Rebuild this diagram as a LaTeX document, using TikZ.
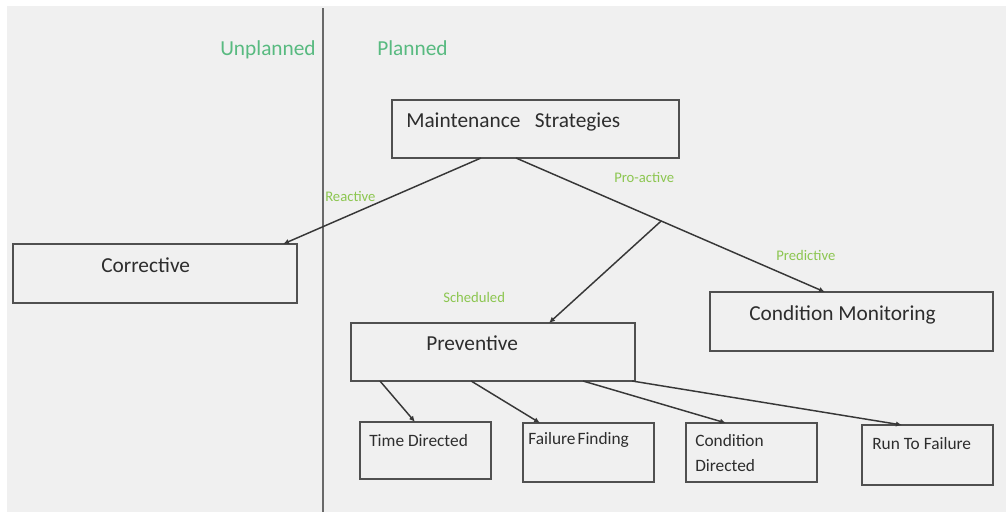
\documentclass[tikz,border=0pt]{standalone}
\usepackage{fontspec}
\setmainfont{Carlito}
\usetikzlibrary{calc,arrows.meta}
\definecolor{pagegray}{RGB}{240,240,240}
\definecolor{boxline}{RGB}{80,80,80}
\definecolor{arrowline}{RGB}{55,55,55}
\definecolor{divline}{RGB}{105,105,105}
\definecolor{zonegreen}{RGB}{88,186,128}
\definecolor{tagcolor}{RGB}{140,198,80}
\definecolor{inktext}{RGB}{45,45,45}
\begin{document}
\begin{tikzpicture}[x=0.75pt,y=-0.75pt,
  box/.style 2 args={draw=boxline, line width=1.1pt, rectangle, inner sep=0pt, outer sep=0pt,
    minimum width=#1*0.75pt, minimum height=#2*0.75pt},
  bigtext/.style={anchor=base west, inner sep=0pt, text=inktext, font=\fontsize{16}{19}\selectfont},
  smalltext/.style={anchor=base west, inner sep=0pt, text=inktext, font=\fontsize{13}{16}\selectfont},
  zone/.style={anchor=base west, inner sep=0pt, text=zonegreen, font=\fontsize{16}{19}\selectfont},
  tag/.style={anchor=base west, inner sep=0pt, text=tagcolor, font=\fontsize{11}{13}\selectfont},
  link/.style={draw=arrowline, line width=1.1pt, -{Latex[length=4.5pt,width=4pt]}}]
  % canvas
  \fill[white] (0,0) rectangle (1006,512);
  \fill[pagegray] (7,6) rectangle (1006,512);
  \useasboundingbox (0,0) rectangle (1006,512);

  % divider between unplanned and planned work
  \coordinate (divtop) at (323,8);
  \coordinate (divbot) at (323,512);
  \draw[divline, line width=1.1pt] (divtop) -- (divbot);
  \node[zone] (unpl) at (220,55) {Unplanned};
  \node[zone] (pl) at (377,55) {Planned};

  % boxes
  \node[box={287}{58}] (ms)   at (535.5,129)   {};
  \node[box={284}{59}] (cor)  at (155,273.5)   {};
  \node[box={283}{59}] (cm)   at (851.5,321.5) {};
  \node[box={284}{58}] (prev) at (493,352)     {};
  \node[box={131}{57}] (td)   at (425.5,450.5) {};
  \node[box={131}{59}] (ff)   at (588.5,452.5) {};
  \node[box={131}{59}] (cd)   at (751.5,452.5) {};
  \node[box={131}{60}] (rtf)  at (927.5,455)   {};

  % box captions
  \node[bigtext] (mst) at (406,127) {Maintenance\ \ \ Strategies};
  \node[bigtext] (cort) at (101,272) {Corrective};
  \node[bigtext] (cmt) at (749,320) {Condition Monitoring};
  \node[bigtext] (prevt) at (426,350) {Preventive};
  \node[smalltext] (tdt) at (369,446) {Time Directed};
  \node[smalltext] (fft) at (528,444) {Failure\kern1.5pt Finding};
  \node[smalltext] (cdt1) at (695,446) {Condition};
  \node[smalltext] (cdt2) at (695,471) {Directed};
  \node[smalltext] (rtft) at (872,449) {Run To Failure};

  % strategy links
  \coordinate (msA) at ($(ms.south west)!0.31!(ms.south east)$);
  \coordinate (msB) at ($(ms.south west)!0.432!(ms.south east)$);
  \coordinate (cmIn) at ($(cm.north west)!0.406!(cm.north east)$);
  \draw[link] (msA) -- ($(cor.north west)!0.951!(cor.north east)$);
  \draw[link] (msB) -- (cmIn);
  \coordinate (split) at ($(msB)!0.47!(cmIn)$);
  \draw[link] (split) -- ($(prev.north west)!0.697!(prev.north east)$);

  % preventive sub-types
  \draw[link] ($(prev.south west)!0.102!(prev.south east)$) -- ($(td.north west)!0.42!(td.north east)$);
  \draw[link] ($(prev.south west)!0.423!(prev.south east)$) -- ($(ff.north west)!0.13!(ff.north east)$);
  \draw[link] ($(prev.south west)!0.817!(prev.south east)$) -- ($(cd.north west)!0.305!(cd.north east)$);
  \draw[link] ($(prev.south west)!0.99!(prev.south east)$) -- ($(rtf.north west)!0.305!(rtf.north east)$);

  % link tags
  \node[tag] (rea) at (325,201) {Reactive};
  \node[tag] (pro) at (614,182) {Pro-active};
  \node[tag] (pred) at (776,260) {Predictive};
  \node[tag] (sch) at (443,302) {Scheduled};
\end{tikzpicture}
\end{document}
